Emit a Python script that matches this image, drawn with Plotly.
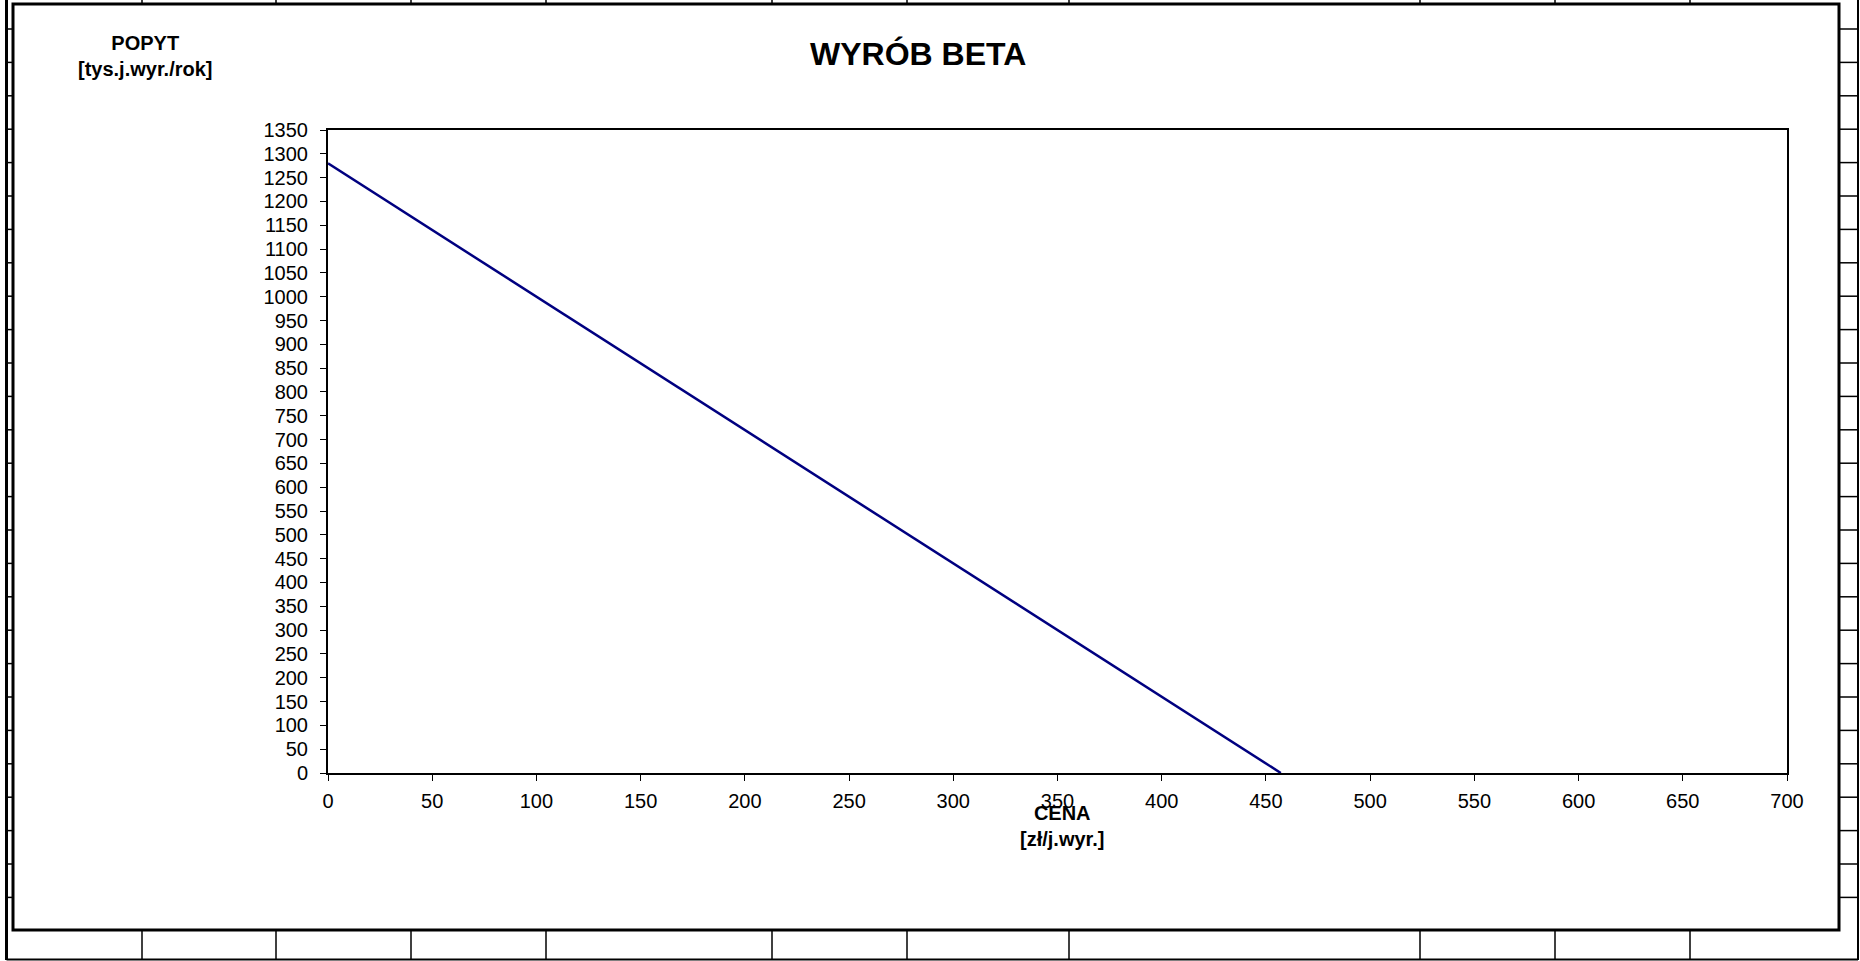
import plotly.graph_objects as go

# ---- data ----
cena = [0, 457.14]          # price [zł/j.wyr.]
popyt = [1280, 0]           # demand [tys.j.wyr./rok]
x_ticks = list(range(0, 701, 50))
y_ticks = list(range(0, 1351, 50))

title_text = "<b>WYRÓB BETA</b>"
y_label = "<b>POPYT</b><br><b>[tys.j.wyr./rok]</b>"
x_label = "<b>CENA</b><br><b>[zł/j.wyr.]</b>"

# ---- layout geometry (pixels) ----
W, H = 1860, 961
L, R, T, B = 328, 73, 130, 188
PW, PH = W - L - R, H - T - B
BOTTOM = T + PH


def px(x):
    return (x - L) / PW


def py(y):
    return (BOTTOM - y) / PH


FONT = "Liberation Sans, Arial, sans-serif"

fig = go.Figure()
fig.add_trace(go.Scatter(x=cena, y=popyt, mode="lines",
                         line=dict(color="#000080", width=2.5),
                         showlegend=False, hoverinfo="x+y"))

shapes = []
# spreadsheet grid around the chart
col_x = [142, 276, 411, 546, 772, 907, 1069, 1420, 1555, 1690]
row_y = [29 + 33.4 * k for k in range(27)]
for cx in col_x:
    shapes.append(dict(type="line", xref="paper", yref="paper",
                       x0=px(cx), x1=px(cx), y0=py(0), y1=py(3),
                       line=dict(color="black", width=1.5)))
    shapes.append(dict(type="line", xref="paper", yref="paper",
                       x0=px(cx), x1=px(cx), y0=py(931), y1=py(960),
                       line=dict(color="black", width=1.5)))
for ry in row_y:
    shapes.append(dict(type="line", xref="paper", yref="paper",
                       x0=px(7), x1=px(12), y0=py(ry), y1=py(ry),
                       line=dict(color="black", width=1.5)))
    shapes.append(dict(type="line", xref="paper", yref="paper",
                       x0=px(1839), x1=px(1858), y0=py(ry), y1=py(ry),
                       line=dict(color="black", width=1.5)))
# outer sheet lines
shapes.append(dict(type="line", xref="paper", yref="paper",
                   x0=px(6.5), x1=px(6.5), y0=py(0), y1=py(960),
                   line=dict(color="black", width=3)))
shapes.append(dict(type="line", xref="paper", yref="paper",
                   x0=px(1858), x1=px(1858), y0=py(0), y1=py(960),
                   line=dict(color="black", width=2)))
shapes.append(dict(type="line", xref="paper", yref="paper",
                   x0=px(6.5), x1=px(1858), y0=py(959.5), y1=py(959.5),
                   line=dict(color="black", width=2)))
# chart frame
shapes.append(dict(type="rect", xref="paper", yref="paper",
                   x0=px(13), x1=px(1839), y0=py(930), y1=py(4),
                   line=dict(color="black", width=3)))

annotations = [
    dict(text=title_text, x=px(918), y=py(54), xref="paper", yref="paper",
         xanchor="center", yanchor="middle", showarrow=False,
         font=dict(family=FONT, size=32, color="black")),
    dict(text=y_label, x=px(145.5), y=py(56), xref="paper", yref="paper",
         xanchor="center", yanchor="middle", showarrow=False,
         font=dict(family=FONT, size=20, color="black")),
    dict(text=x_label, x=px(1062), y=py(826), xref="paper", yref="paper",
         xanchor="center", yanchor="middle", showarrow=False,
         font=dict(family=FONT, size=20, color="black")),
]

axis_common = dict(showgrid=False, zeroline=False, showline=True,
                   linecolor="black", linewidth=2, mirror=True,
                   ticks="outside", ticklen=6, tickwidth=1, tickcolor="black",
                   tickfont=dict(family=FONT, size=20, color="black"))

fig.update_layout(
    width=W, height=H,
    margin=dict(l=L, r=R, t=T, b=B, autoexpand=False),
    paper_bgcolor="white", plot_bgcolor="white",
    xaxis=dict(range=[0, 700], tickvals=x_ticks, ticklabelstandoff=3,
               **axis_common),
    yaxis=dict(range=[0, 1350], tickvals=y_ticks, ticklabelstandoff=8,
               **axis_common),
    shapes=shapes,
    annotations=annotations,
    showlegend=False,
)

fig.write_html(
    "out.html",
    config={"displayModeBar": False},
    post_script="document.body.style.margin='0';document.body.style.overflow='hidden';",
)
